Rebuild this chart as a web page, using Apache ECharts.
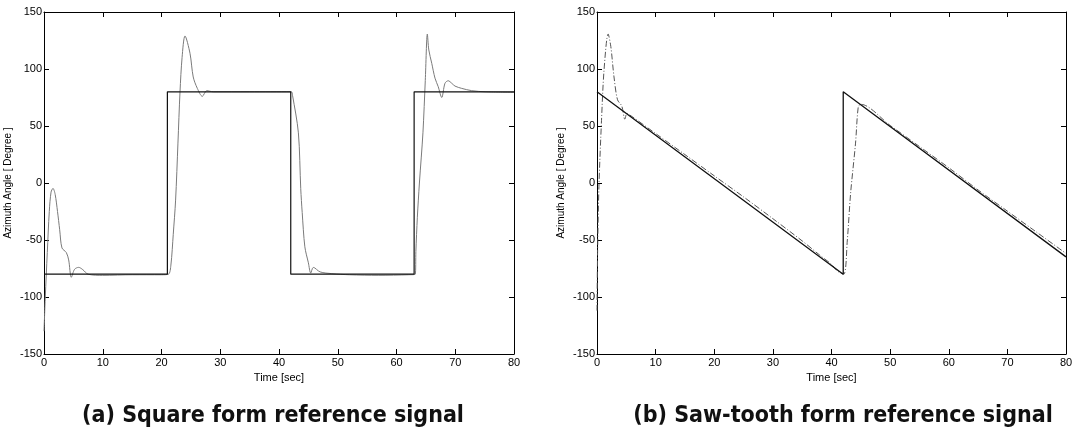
<!DOCTYPE html>
<html>
<head>
<meta charset="utf-8">
<script src="https://cdn.jsdelivr.net/npm/echarts@6/dist/echarts.min.js"></script>
<style>
  html, body { margin: 0; padding: 0; background: #fff; }
  #chart { width: 1079px; height: 435px; }
</style>
</head>
<body>
<div id="chart"></div>
<script>
// (a) square form
const squareRefTime = [0, 21, 21, 42, 42, 63, 63, 80]
const squareRefValue = [-80, -80, 80, 80, -80, -80, 80, 80]
const squareRespTime = [0, 0.22, 0.56, 0.9, 1.2, 1.53, 1.9, 2.3, 2.67, 3.06, 3.8, 4.2, 4.65, 5.2, 5.9, 6.6, 7.5, 10, 15, 20,
  21.2, 21.6, 22.0, 22.4, 22.8, 23.15, 23.5, 24.0, 24.85, 25.4, 26.1, 26.95, 27.7, 28.8, 35, 42.1,
  42.3, 43.3, 43.7, 43.95, 44.4, 45.0, 45.4, 45.85, 47, 49, 52, 57, 62,
  63.2, 63.3, 63.55, 63.9, 64.5, 64.9, 65.25, 65.5, 66.0, 66.55, 67.1, 67.7, 68.25, 68.8, 69.4, 69.96, 71.1, 72.8, 75.1, 80]
const squareRespValue = [-130, -100, -61, -25, -8, -4.7, -10, -25, -41, -57, -61, -67.5, -82.7, -75.7, -74, -76, -80, -81, -80.5, -80.5,
  -80, -72, -45, -15, 35, 80, 110, 129, 113.8, 93, 83, 76, 81, 80, 80, 80,
  77, 44, -5, -26, -56, -70, -79, -74, -78, -79.5, -80.5, -81, -80.5,
  -80, -60, -30, 0, 44, 90, 130.7, 116.7, 105, 92, 84.5, 75, 87.5, 89.7, 87.5, 85, 83, 81, 80, 79.5]

// (b) saw-tooth form
const sawRefTime = [0, 42, 42, 80]
const sawRefValue = [80, -80, 80, -64.8]
const sawRespTime = [0, 0.1, 0.33, 0.77, 1.2, 1.9, 2.36, 2.9, 3.5, 4.23, 4.75, 5.1, 5.5, 10, 15, 20, 25, 30, 35, 38, 40, 41, 42.1,
  42.7, 43.26, 44.1, 44.57, 45, 50, 55, 60, 65, 70, 75, 80]
const sawRespValue = [-112, -61, -3, 55, 99, 130.7, 119.6, 93, 73, 67.5, 56, 61, 60, 43.4, 24.9, 6.3, -12.2, -31.3, -50.8, -63.3, -71.4, -77.2, -80,
  -50, -9, 35, 67, 69, 50.5, 32, 13.4, -6.1, -24.7, -43.2, -61.8]

const yTicks = { min: -150, max: 150, interval: 50 }
const xTicks = { min: 0, max: 80, interval: 10 }

function zip(xs, ys) {
  return xs.map((x, i) => [x, ys[i]])
}

const chart = echarts.init(document.getElementById('chart'))

const labelFont = { color: '#000', fontFamily: 'Liberation Sans, Arial, sans-serif', fontSize: 11 }
const lineStyle = { color: '#000', width: 1 }
const tick = { show: true, inside: true, length: 5, lineStyle: lineStyle }

function xAxisPair(gridIndex) {
  return [
    {
      type: 'value', gridIndex, position: 'bottom', ...xTicks,
      name: 'Time [sec]', nameLocation: 'middle', nameGap: 18,
      nameTextStyle: { ...labelFont, fontSize: 11 },
      axisLine: { show: true, onZero: false, lineStyle },
      axisTick: tick,
      axisLabel: { ...labelFont, margin: 3 },
      splitLine: { show: false }
    },
    {
      type: 'value', gridIndex, position: 'top', ...xTicks,
      axisLine: { show: true, onZero: false, lineStyle },
      axisTick: tick,
      axisLabel: { show: false },
      splitLine: { show: false }
    }
  ]
}

function yAxisPair(gridIndex) {
  return [
    {
      type: 'value', gridIndex, position: 'left', ...yTicks,
      name: 'Azimuth Angle [ Degree ]', nameLocation: 'middle', nameGap: 31, nameRotate: 90,
      nameTextStyle: { ...labelFont, fontSize: 10 },
      axisLine: { show: true, onZero: false, lineStyle },
      axisTick: tick,
      axisLabel: { ...labelFont, margin: 2 },
      splitLine: { show: false }
    },
    {
      type: 'value', gridIndex, position: 'right', ...yTicks,
      axisLine: { show: true, onZero: false, lineStyle },
      axisTick: tick,
      axisLabel: { show: false },
      splitLine: { show: false }
    }
  ]
}

const captionStyle = {
  fontFamily: 'Liberation Sans Narrow, DejaVu Sans Condensed, sans-serif',
  fontWeight: 'bold',
  fontSize: 23,
  color: '#111'
}

const option = {
  animation: false,
  title: [
    { text: '(a) Square form reference signal', left: 268, top: 400, textAlign: 'center', textStyle: captionStyle },
    { text: '(b) Saw-tooth form reference signal', left: 838, top: 400, textAlign: 'center', textStyle: captionStyle }
  ],
  grid: [
    { left: 44, top: 12, width: 470, height: 342 },
    { left: 597, top: 12, width: 469, height: 342 }
  ],
  xAxis: [...xAxisPair(0), ...xAxisPair(1)],
  yAxis: [...yAxisPair(0), ...yAxisPair(1)],
  series: [
    {
      name: 'square reference', type: 'line', xAxisIndex: 0, yAxisIndex: 0,
      data: zip(squareRefTime, squareRefValue), symbol: 'none',
      lineStyle: { color: '#111', width: 1.2 }, z: 3
    },
    {
      name: 'square response', type: 'line', xAxisIndex: 0, yAxisIndex: 0,
      data: zip(squareRespTime, squareRespValue), symbol: 'none', smooth: 0.3,
      lineStyle: { color: '#7a7a7a', width: 1 }, z: 2
    },
    {
      name: 'saw reference', type: 'line', xAxisIndex: 2, yAxisIndex: 2,
      data: zip(sawRefTime, sawRefValue), symbol: 'none',
      lineStyle: { color: '#111', width: 1.3 }, z: 3
    },
    {
      name: 'saw response', type: 'line', xAxisIndex: 2, yAxisIndex: 2,
      data: zip(sawRespTime, sawRespValue), symbol: 'none', smooth: 0.3,
      lineStyle: { color: '#555', width: 1, type: [6, 2, 1, 2] }, z: 2
    }
  ]
}

chart.setOption(option)
</script>
</body>
</html>
